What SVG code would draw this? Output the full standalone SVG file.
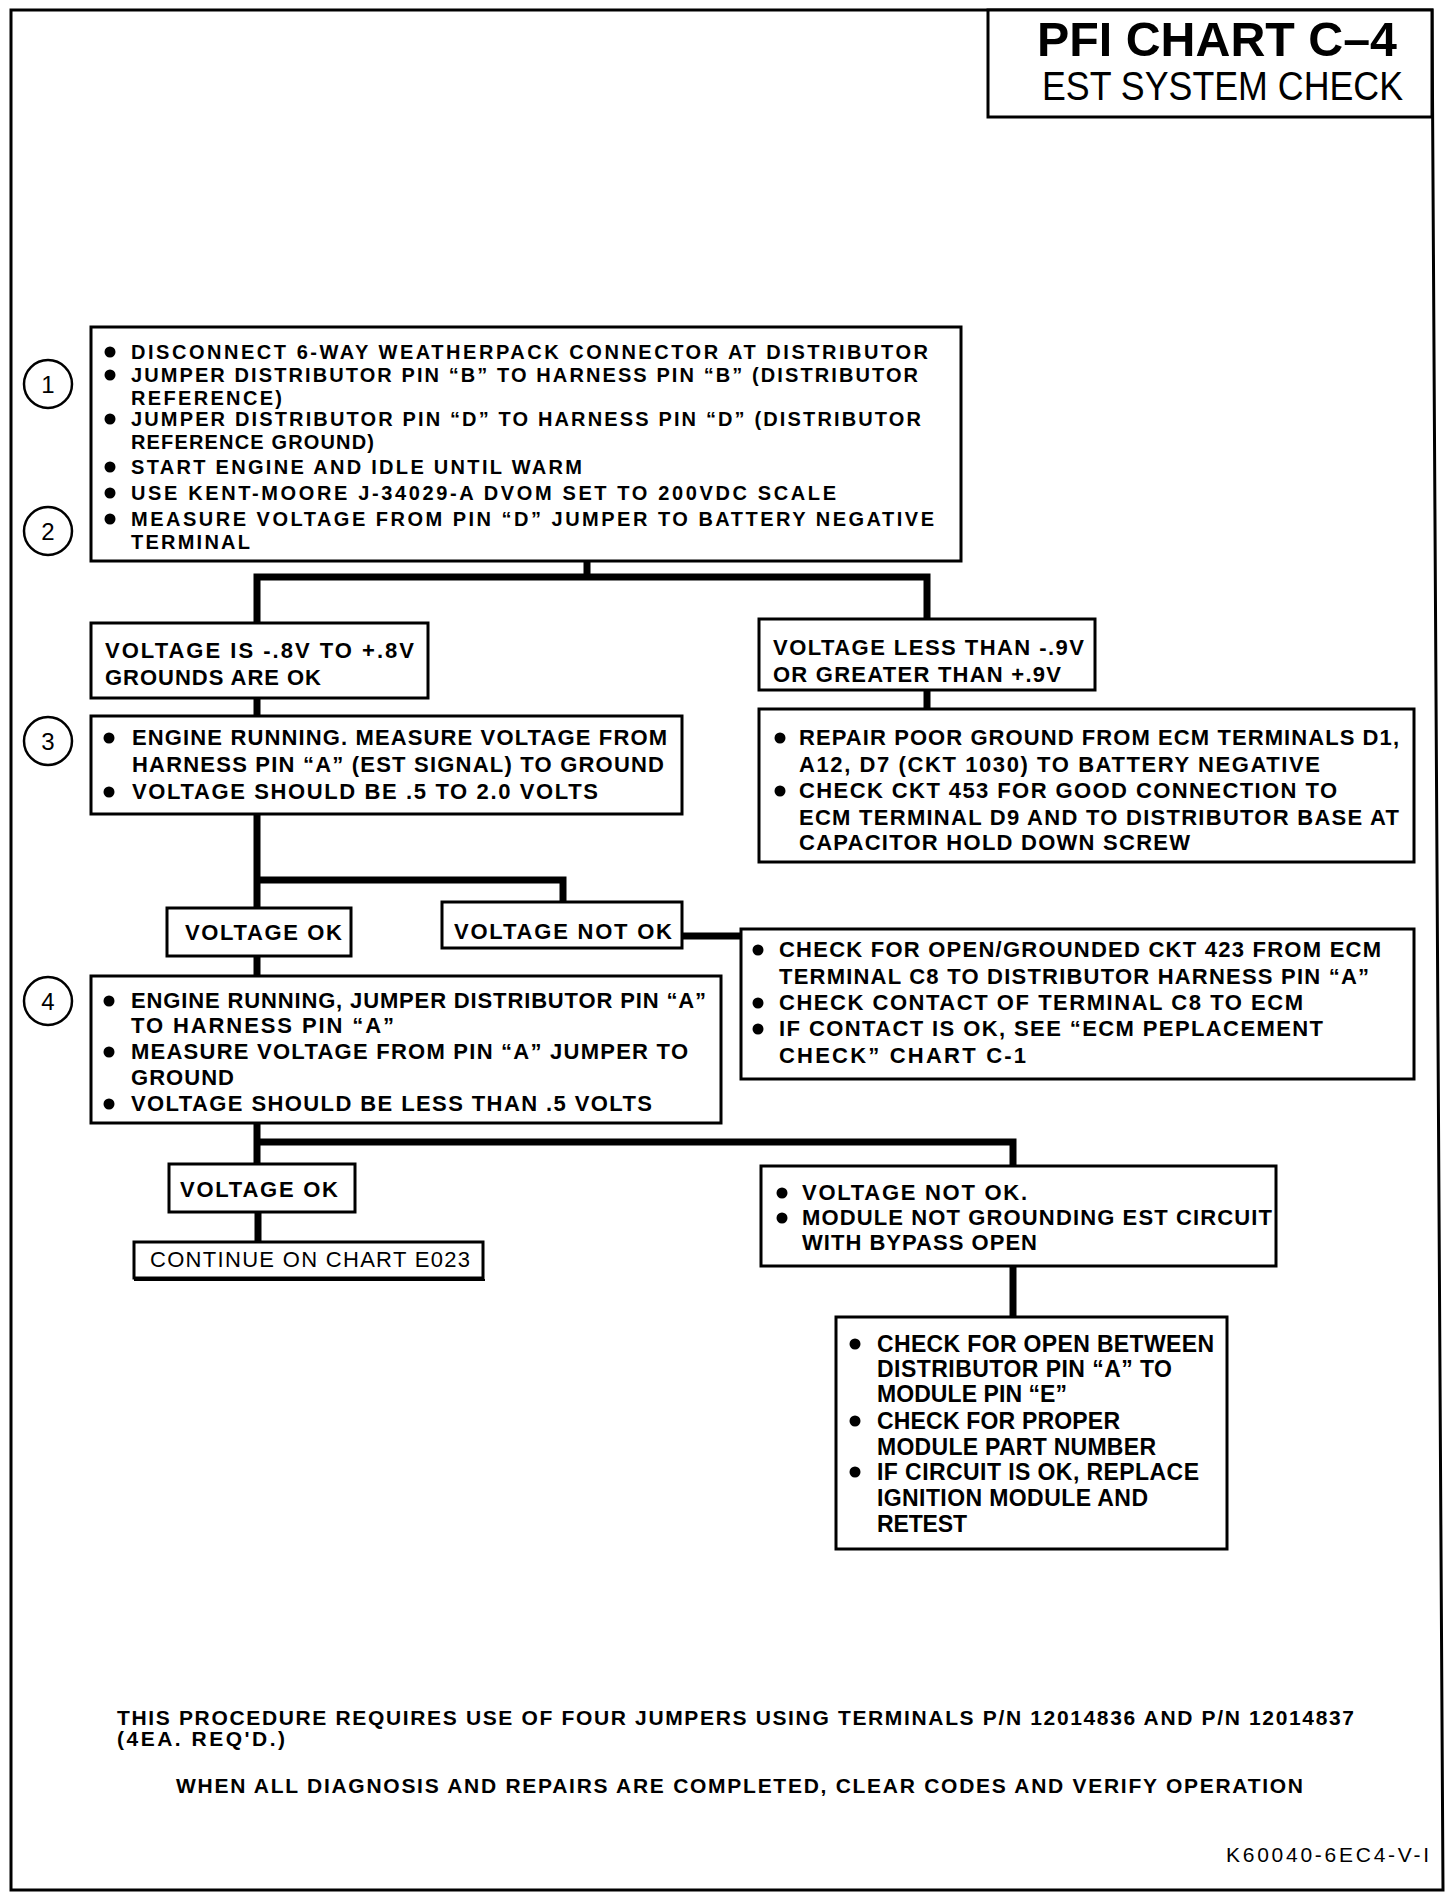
<svg xmlns="http://www.w3.org/2000/svg" width="1456" height="1900" viewBox="0 0 1456 1900">
<style>
.bg{fill:#fff}
.frame{fill:none;stroke:#000;stroke-width:3}
.box{fill:#fff;stroke:#000;stroke-width:3}
.conn{fill:none;stroke:#000;stroke-width:7;stroke-linecap:square}
.t{font-family:"Liberation Sans",Arial,Helvetica,sans-serif;font-size:22px;font-weight:bold;fill:#000}
.s{font-size:20px}
.l{font-size:23px}
.f{font-size:21px}
.n{font-family:"Liberation Sans",Arial,sans-serif;font-size:24px;font-weight:normal;fill:#000;text-anchor:middle}
.cir{fill:#fff;stroke:#000;stroke-width:2.5}
.dot{fill:#000}
.ttl{font-family:"Liberation Sans",Arial,Helvetica,sans-serif;font-size:49px;font-weight:bold;fill:#000}
.sub{font-family:"Liberation Sans",Arial,Helvetica,sans-serif;font-size:40px;font-weight:normal;fill:#000}
</style>
<rect class="bg" x="0" y="0" width="1456" height="1900"/>
<polygon class="frame" points="11,10 1432,10 1443,1890 11,1890"/>

<g id="title">
<rect class="box" x="988" y="10" width="444" height="107"/>
<text class="ttl" x="1037" y="56" textLength="360" lengthAdjust="spacingAndGlyphs">PFI CHART C–4</text>
<text class="sub" x="1042" y="100" textLength="361" lengthAdjust="spacingAndGlyphs">EST SYSTEM CHECK</text>
</g>

<g id="connectors">
<path class="conn" d="M587 561 V577 M257 577 H927 M257 577 V623 M927 577 V619"/>
<path class="conn" d="M257 698 V716"/>
<path class="conn" d="M927 690 V709"/>
<path class="conn" d="M257 814 V908 M257 880 H563 V902"/>
<path class="conn" d="M682 936 H741"/>
<path class="conn" d="M257 956 V976"/>
<path class="conn" d="M257 1123 V1165 M257 1142 H1013 V1166"/>
<path class="conn" d="M258 1212 V1242"/>
<path class="conn" d="M1013 1266 V1318"/>
</g>

<g id="step1">
<circle class="cir" cx="48" cy="384" r="24"/>
<text class="n" x="48" y="393">1</text>
</g>
<g id="step2">
<circle class="cir" cx="48" cy="531" r="24"/>
<text class="n" x="48" y="540">2</text>
</g>
<g id="step3">
<circle class="cir" cx="48" cy="741" r="24"/>
<text class="n" x="48" y="750">3</text>
</g>
<g id="step4">
<circle class="cir" cx="48" cy="1001" r="24"/>
<text class="n" x="48" y="1010">4</text>
</g>

<g id="box1">
<rect class="box" x="91" y="327" width="870" height="234"/>
<circle class="dot" cx="110" cy="352" r="5.5"/>
<circle class="dot" cx="110" cy="375" r="5.5"/>
<circle class="dot" cx="110" cy="419" r="5.5"/>
<circle class="dot" cx="110" cy="467" r="5.5"/>
<circle class="dot" cx="110" cy="493" r="5.5"/>
<circle class="dot" cx="110" cy="519" r="5.5"/>
<text class="t s" x="131" y="359" textLength="797">DISCONNECT 6-WAY WEATHERPACK CONNECTOR AT DISTRIBUTOR</text>
<text class="t s" x="131" y="382" textLength="787">JUMPER DISTRIBUTOR PIN “B” TO HARNESS PIN “B” (DISTRIBUTOR</text>
<text class="t s" x="131" y="405" textLength="151">REFERENCE)</text>
<text class="t s" x="131" y="426" textLength="790">JUMPER DISTRIBUTOR PIN “D” TO HARNESS PIN “D” (DISTRIBUTOR</text>
<text class="t s" x="131" y="449" textLength="243">REFERENCE GROUND)</text>
<text class="t s" x="131" y="474" textLength="451">START ENGINE AND IDLE UNTIL WARM</text>
<text class="t s" x="131" y="500" textLength="705">USE KENT-MOORE J-34029-A DVOM SET TO 200VDC SCALE</text>
<text class="t s" x="131" y="526" textLength="803">MEASURE VOLTAGE FROM PIN “D” JUMPER TO BATTERY NEGATIVE</text>
<text class="t s" x="131" y="549" textLength="119">TERMINAL</text>
</g>

<g id="groundsOk">
<rect class="box" x="91" y="623" width="337" height="75"/>
<text class="t" x="105" y="658" textLength="309">VOLTAGE IS -.8V TO +.8V</text>
<text class="t" x="105" y="685" textLength="216">GROUNDS ARE OK</text>
</g>

<g id="groundsBad">
<rect class="box" x="759" y="619" width="336" height="71"/>
<text class="t" x="773" y="655" textLength="311">VOLTAGE LESS THAN -.9V</text>
<text class="t" x="773" y="682" textLength="288">OR GREATER THAN +.9V</text>
</g>

<g id="box3">
<rect class="box" x="91" y="716" width="591" height="98"/>
<circle class="dot" cx="109" cy="738" r="5.5"/>
<circle class="dot" cx="109" cy="792" r="5.5"/>
<text class="t" x="132" y="745" textLength="535">ENGINE RUNNING. MEASURE VOLTAGE FROM</text>
<text class="t" x="132" y="772" textLength="532">HARNESS PIN “A” (EST SIGNAL) TO GROUND</text>
<text class="t" x="132" y="799" textLength="466">VOLTAGE SHOULD BE .5 TO 2.0 VOLTS</text>
</g>

<g id="repairGround">
<rect class="box" x="759" y="709" width="655" height="153"/>
<circle class="dot" cx="780" cy="738" r="5.5"/>
<circle class="dot" cx="780" cy="791" r="5.5"/>
<text class="t" x="799" y="745" textLength="600">REPAIR POOR GROUND FROM ECM TERMINALS D1,</text>
<text class="t" x="799" y="772" textLength="521">A12, D7 (CKT 1030) TO BATTERY NEGATIVE</text>
<text class="t" x="799" y="798" textLength="538">CHECK CKT 453 FOR GOOD CONNECTION TO</text>
<text class="t" x="799" y="825" textLength="600">ECM TERMINAL D9 AND TO DISTRIBUTOR BASE AT</text>
<text class="t" x="799" y="850" textLength="391">CAPACITOR HOLD DOWN SCREW</text>
</g>

<g id="voltageOk1">
<rect class="box" x="167" y="908" width="184" height="48"/>
<text class="t" x="185" y="940" textLength="157">VOLTAGE OK</text>
</g>

<g id="voltageNotOk1">
<rect class="box" x="442" y="902" width="240" height="46"/>
<text class="t" x="454" y="939" textLength="218">VOLTAGE NOT OK</text>
</g>

<g id="checkCkt423">
<rect class="box" x="741" y="929" width="673" height="150"/>
<circle class="dot" cx="758" cy="950" r="5.5"/>
<circle class="dot" cx="758" cy="1003" r="5.5"/>
<circle class="dot" cx="758" cy="1029" r="5.5"/>
<text class="t" x="779" y="957" textLength="602">CHECK FOR OPEN/GROUNDED CKT 423 FROM ECM</text>
<text class="t" x="779" y="984" textLength="590">TERMINAL C8 TO DISTRIBUTOR HARNESS PIN “A”</text>
<text class="t" x="779" y="1010" textLength="524">CHECK CONTACT OF TERMINAL C8 TO ECM</text>
<text class="t" x="779" y="1036" textLength="544">IF CONTACT IS OK, SEE “ECM PEPLACEMENT</text>
<text class="t" x="779" y="1063" textLength="247">CHECK” CHART C-1</text>
</g>

<g id="box4">
<rect class="box" x="91" y="976" width="630" height="147"/>
<circle class="dot" cx="109" cy="1001" r="5.5"/>
<circle class="dot" cx="109" cy="1052" r="5.5"/>
<circle class="dot" cx="109" cy="1104" r="5.5"/>
<text class="t" x="131" y="1008" textLength="575">ENGINE RUNNING, JUMPER DISTRIBUTOR PIN “A”</text>
<text class="t" x="131" y="1033" textLength="263">TO HARNESS PIN “A”</text>
<text class="t" x="131" y="1059" textLength="557">MEASURE VOLTAGE FROM PIN “A” JUMPER TO</text>
<text class="t" x="131" y="1085" textLength="103">GROUND</text>
<text class="t" x="131" y="1111" textLength="521">VOLTAGE SHOULD BE LESS THAN .5 VOLTS</text>
</g>

<g id="voltageOk2">
<rect class="box" x="169" y="1164" width="186" height="48"/>
<text class="t" x="180" y="1197" textLength="158">VOLTAGE OK</text>
</g>

<g id="continueChart">
<rect class="box" x="134" y="1242" width="349" height="36"/>
<line x1="134" y1="1280" x2="485" y2="1280" stroke="#000" stroke-width="2"/>
<text class="t" x="150" y="1267" textLength="320" style="font-weight:normal">CONTINUE ON CHART E023</text>
</g>

<g id="voltageNotOk2">
<rect class="box" x="761" y="1166" width="515" height="100"/>
<circle class="dot" cx="782" cy="1193" r="5.5"/>
<circle class="dot" cx="782" cy="1218" r="5.5"/>
<text class="t" x="802" y="1200" textLength="225">VOLTAGE NOT OK.</text>
<text class="t" x="802" y="1225" textLength="470">MODULE NOT GROUNDING EST CIRCUIT</text>
<text class="t" x="802" y="1250" textLength="235">WITH BYPASS OPEN</text>
</g>

<g id="finalCheck">
<rect class="box" x="836" y="1317" width="391" height="232"/>
<circle class="dot" cx="855" cy="1344" r="5.5"/>
<circle class="dot" cx="855" cy="1421" r="5.5"/>
<circle class="dot" cx="855" cy="1472" r="5.5"/>
<text class="t l" x="877" y="1352" textLength="337">CHECK FOR OPEN BETWEEN</text>
<text class="t l" x="877" y="1377" textLength="295">DISTRIBUTOR PIN “A” TO</text>
<text class="t l" x="877" y="1402" textLength="190">MODULE PIN “E”</text>
<text class="t l" x="877" y="1429" textLength="243">CHECK FOR PROPER</text>
<text class="t l" x="877" y="1455" textLength="279">MODULE PART NUMBER</text>
<text class="t l" x="877" y="1480" textLength="322">IF CIRCUIT IS OK, REPLACE</text>
<text class="t l" x="877" y="1506" textLength="271">IGNITION MODULE AND</text>
<text class="t l" x="877" y="1532" textLength="90">RETEST</text>
</g>

<g id="footer">
<text class="t f" x="117" y="1725" textLength="1237">THIS PROCEDURE REQUIRES USE OF FOUR JUMPERS USING TERMINALS P/N 12014836 AND P/N 12014837</text>
<text class="t f" x="117" y="1746" textLength="168">(4EA. REQ'D.)</text>
<text class="t f" x="176" y="1793" textLength="1127">WHEN ALL DIAGNOSIS AND REPAIRS ARE COMPLETED, CLEAR CODES AND VERIFY OPERATION</text>
<text class="t f" x="1226" y="1862" textLength="203" style="font-weight:normal">K60040-6EC4-V-I</text>
</g>
</svg>
